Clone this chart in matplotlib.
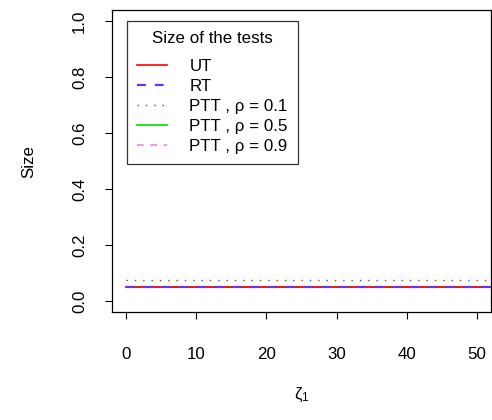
import numpy as np
import matplotlib
matplotlib.use("Agg")
import matplotlib.pyplot as plt

plt.rcParams['font.family'] = ['Liberation Sans', 'DejaVu Sans']
plt.rcParams['font.size'] = 12.2

# empirical size of each test against zeta_1
zeta = [0, 10, 20, 30, 40, 50, 60]
size_ut = [0.048, 0.048, 0.048, 0.048, 0.048, 0.048, 0.048]
size_rt = [0.048, 0.048, 0.048, 0.048, 0.048, 0.048, 0.048]
size_ptt1 = [0.075, 0.075, 0.075, 0.075, 0.075, 0.075, 0.075]
size_ptt5 = [0.048, 0.048, 0.048, 0.048, 0.048, 0.048, 0.048]
size_ptt9 = [0.048, 0.048, 0.048, 0.048, 0.048, 0.048, 0.048]

xticks = [0, 10, 20, 30, 40, 50]
yticks = [0.0, 0.2, 0.4, 0.6, 0.8, 1.0]

fig = plt.figure(figsize=(4.92, 4.2), dpi=100)
ax = fig.add_axes([112/492, 108/420, 379/492, 302/420])

l5, = ax.plot(zeta, size_ptt5, color='#00dd00', lw=1.2, label='PTT , ρ = 0.5')
l9, = ax.plot(zeta, size_ptt9, color='#ee82ee', lw=1.2, ls=(0, (4, 4)), label='PTT , ρ = 0.9')
l_ut, = ax.plot(zeta, size_ut, color='#ff0000', lw=1.2, label='UT')
l_rt, = ax.plot(zeta, size_rt, color='#7030f0', lw=1.6, ls=(0, (4, 4)), label='RT')
l1, = ax.plot(zeta, size_ptt1, color='#555555', lw=1.0, ls=(0, (1, 5)), label='PTT , ρ = 0.1')

ax.set_xlim(-2, 52)
ax.set_ylim(-0.04, 1.04)
ax.set_xticks(xticks)
ax.set_xticklabels([str(t) for t in xticks])
ax.set_yticks(yticks)
ax.set_yticklabels(['%.1f' % t for t in yticks], rotation=90, va='center')
ax.tick_params(direction='out', length=5, width=0.8, color='black')
ax.tick_params(axis='x', pad=20)
ax.tick_params(axis='y', pad=13)
for s in ax.spines.values():
    s.set_linewidth(0.9)

fig.text(302/492, 1 - 395/420, r'$\mathregular{ζ_1}$', ha='center', va='center')
fig.text(29/492, 1 - 161/420, 'Size', rotation=90, ha='center', va='center')

leg = ax.legend(handles=[l_ut, l_rt, l1, l5, l9], title='Size of the tests',
                loc='upper left', bbox_to_anchor=(0.039, 0.963),
                frameon=True, fancybox=False, edgecolor='black',
                handlelength=1.8, handletextpad=1.3, labelspacing=0.3,
                borderpad=0.6, borderaxespad=0, handleheight=0.7)
leg._legend_box.sep = 9
leg.get_frame().set_linewidth(0.9)

fig.savefig('out.png', dpi=100)
